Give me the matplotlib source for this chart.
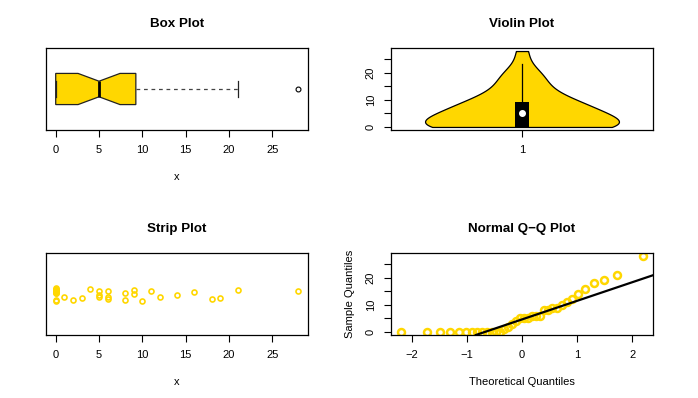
import matplotlib
matplotlib.use("Agg")
import matplotlib.pyplot as plt
import numpy as np
from statistics import NormalDist

plt.rcParams['font.family'] = ['Liberation Sans', 'DejaVu Sans']

# datos (ordenados)
x = [0, 0, 0, 0, 0, 0, 0, 0, 0, 0, 0, 0, 0,
     1, 2, 3, 4, 5, 5, 5, 6, 6, 6, 8, 8, 9, 9,
     10, 11, 12, 14, 16, 18, 19, 21, 28]
# desplazamiento vertical del strip plot
jitter = [0.085, 0.07, 0.06, 0.05, 0.04, 0.03, 0.02, 0.012, 0.065, 0.045, -0.1, -0.095, 0.055,
          -0.046, -0.085, -0.061, 0.066, 0.037, -0.012, -0.051, 0.051, -0.037, -0.071,
          0.012, -0.095, 0.061, -0.002, -0.105, 0.046, -0.051, -0.012, 0.027, -0.071,
          -0.061, 0.056, 0.037]

gold = "#FFD700"
W, H = 698, 398
x = np.array(x, dtype=float)
n = len(x)

def pos(l, t, r, b):
    return [l / W, (H - b) / H, (r - l) / W, (b - t) / H]

fig = plt.figure(figsize=(W / 100, H / 100), dpi=100)
ax1 = fig.add_axes(pos(46, 48, 308, 130))
ax2 = fig.add_axes(pos(391, 48, 653, 130))
ax3 = fig.add_axes(pos(46, 253, 308, 335))
ax4 = fig.add_axes(pos(391, 253, 653, 335))

xlim = (-1.12, 29.12)
for ax in (ax1, ax2, ax3, ax4):
    ax.tick_params(labelsize=8, length=5, width=0.8, pad=6)
    for s in ax.spines.values():
        s.set_linewidth(0.9)

# Box plot
ax1.boxplot(x, vert=False, notch=True, widths=0.38, patch_artist=True,
            boxprops=dict(facecolor=gold, edgecolor="#222222", linewidth=0.9),
            medianprops=dict(color="black", linewidth=2),
            whiskerprops=dict(color="#444444", linestyle=(0, (3, 3)), linewidth=0.9),
            capprops=dict(color="#222222", linewidth=0.9),
            capwidths=0.19,
            flierprops=dict(marker="o", markerfacecolor="none", markeredgecolor="black",
                            markersize=3.5, markeredgewidth=0.8))
ax1.set_xlim(xlim)
ax1.set_ylim(0.5, 1.5)
ax1.set_yticks([])
ax1.set_xticks([0, 5, 10, 15, 20, 25])
ax1.set_xlabel("x", fontsize=8, labelpad=12)
ax1.set_title("Box Plot", fontsize=9.6, fontweight="bold", pad=15)

# Violin plot
h = x.std(ddof=1) * (4 / (3 * n)) ** 0.2
yy = np.linspace(x.min(), x.max(), 300)
dens = np.exp(-0.5 * ((yy[:, None] - x[None, :]) / h) ** 2).sum(axis=1)
dens = dens / dens.max() * 0.37
ax2.fill_betweenx(yy, 1 - dens, 1 + dens, facecolor=gold, edgecolor="black", linewidth=0.9)
q1, med, q3 = np.percentile(x, [25, 50, 75])
upper = min(q3 + 1.5 * (q3 - q1), x.max())
ax2.plot([1, 1], [q3, upper], color="black", linewidth=0.9)
ax2.fill_between([0.975, 1.025], q1, q3, color="black", linewidth=0)
ax2.plot(1, med, "o", color="white", markersize=4)
ax2.set_xlim(0.5, 1.5)
ax2.set_ylim(xlim)
ax2.set_xticks([1])
ax2.set_yticks([0, 5, 10, 15, 20, 25])
ax2.set_yticklabels(["0", "", "10", "", "20", ""], rotation=90, va="center")
ax2.set_title("Violin Plot", fontsize=9.6, fontweight="bold", pad=15)

# Strip plot
ax3.plot(x, 1 + np.array(jitter), "o", markerfacecolor="none", markeredgecolor=gold,
         markersize=3.6, markeredgewidth=1.2)
ax3.set_xlim(xlim)
ax3.set_ylim(0.4, 1.6)
ax3.set_yticks([])
ax3.set_xticks([0, 5, 10, 15, 20, 25])
ax3.set_xlabel("x", fontsize=8, labelpad=12)
ax3.set_title("Strip Plot", fontsize=9.6, fontweight="bold", pad=15)

# Normal Q-Q plot
nd = NormalDist()
tq = np.array([nd.inv_cdf((i - 0.5) / n) for i in range(1, n + 1)])
ax4.plot(tq, np.sort(x), "o", markerfacecolor="none", markeredgecolor=gold,
         markersize=5, markeredgewidth=1.8)
yq1, yq3 = np.percentile(x, [25, 75])
xq1, xq3 = nd.inv_cdf(0.25), nd.inv_cdf(0.75)
ax4.axline((xq1, yq1), (xq3, yq3), color="black", linewidth=1.6)
rng = tq.max() - tq.min()
ax4.set_xlim(tq.min() - 0.04 * rng, tq.max() + 0.04 * rng)
ax4.set_ylim(xlim)
ax4.set_xticks([-2, -1, 0, 1, 2])
ax4.set_yticks([0, 5, 10, 15, 20, 25])
ax4.set_yticklabels(["0", "", "10", "", "20", ""], rotation=90, va="center")
ax4.set_xlabel("Theoretical Quantiles", fontsize=8, labelpad=12)
ax4.set_ylabel("Sample Quantiles", fontsize=8, labelpad=8)
ax4.set_title("Normal Q\u2212Q Plot", fontsize=9.6, fontweight="bold", pad=15)

fig.savefig("out.png", dpi=100)
